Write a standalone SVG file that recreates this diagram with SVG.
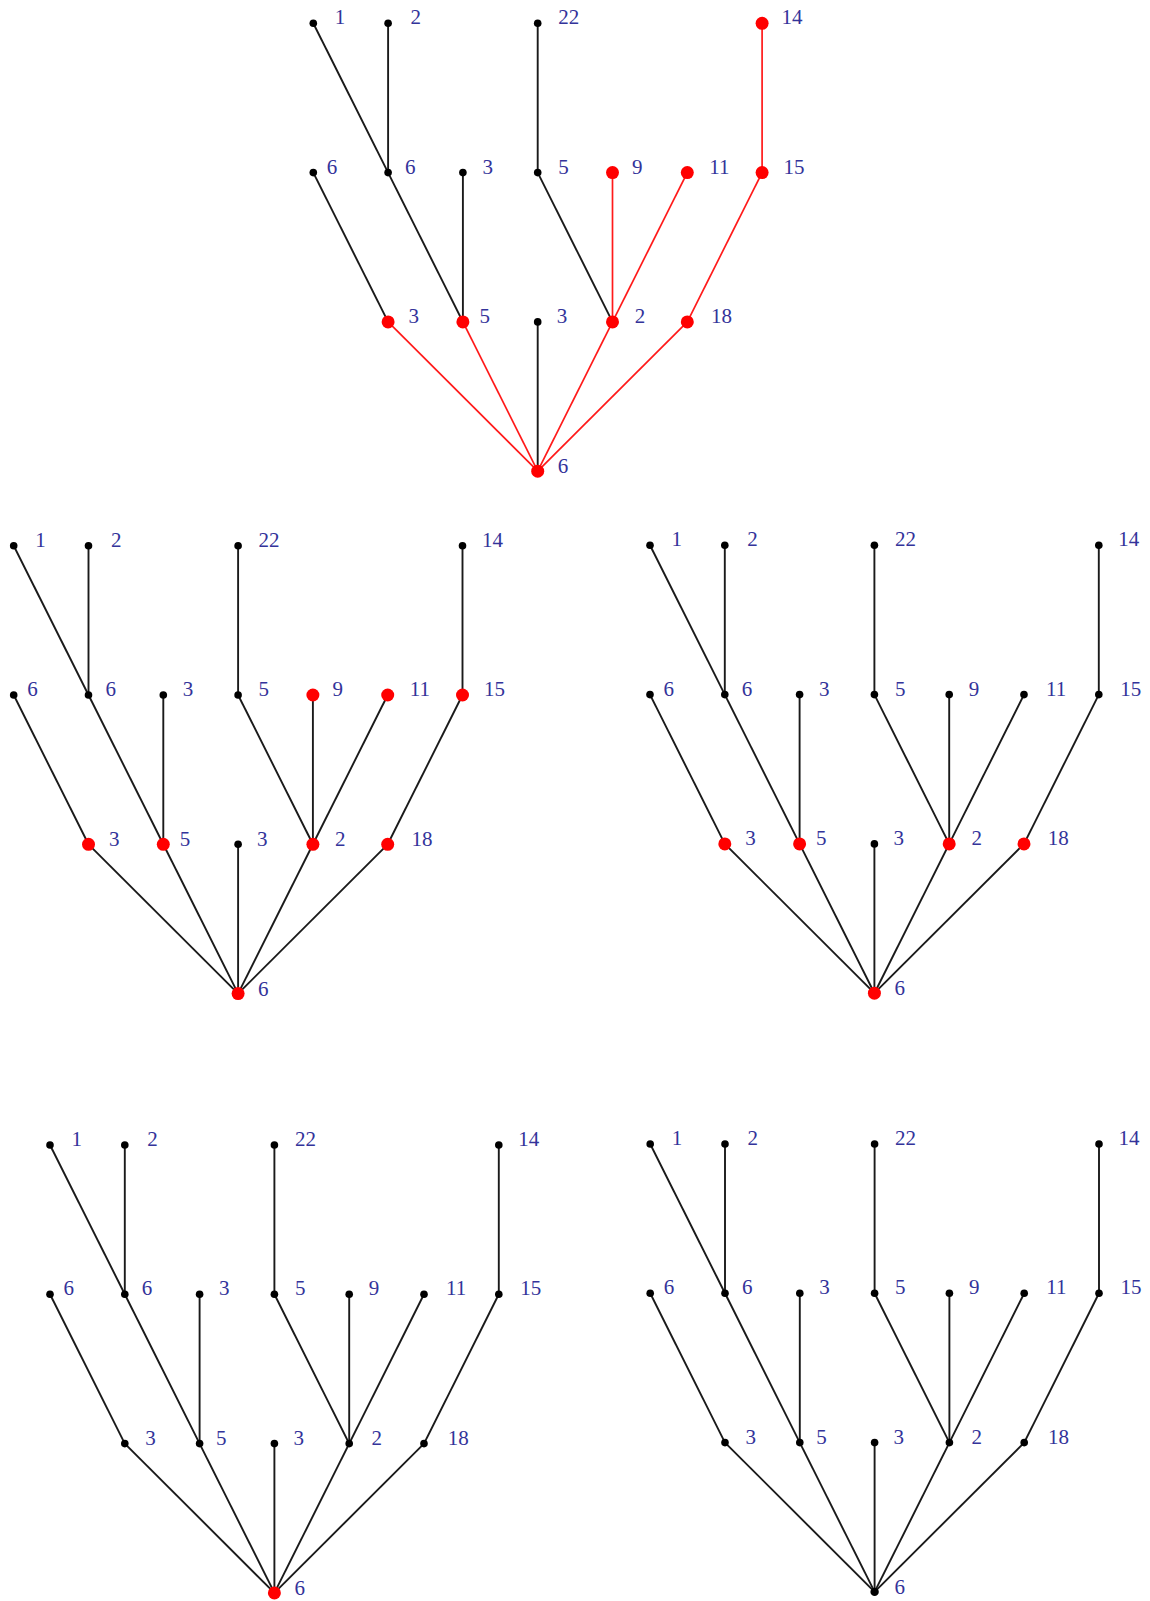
<svg xmlns="http://www.w3.org/2000/svg" width="1150" height="1601" viewBox="0 0 1150 1601">
<style>
.e{stroke:#1a1a1a;stroke-width:1.9;fill:none}
.er{stroke:#ff1a1a;stroke-width:1.7;fill:none}
.d{fill:#000}
.dr{fill:#ff0000}
.lb{font-family:"Liberation Serif","DejaVu Serif",serif;font-size:21px;fill:#33339a}
</style>
<rect width="1150" height="1601" fill="#fff"/>
<g id="connectors">
<g id="conn-t1" transform="translate(313.3,23.3)">
<line class="e" x1="0" y1="0" x2="74.8" y2="149.3"/>
<line class="e" x1="74.8" y1="0" x2="74.8" y2="149.3"/>
<line class="e" x1="224.4" y1="0" x2="224.4" y2="149.3"/>
<line class="er" x1="448.8" y1="0" x2="448.8" y2="149.3"/>
<line class="e" x1="0" y1="149.3" x2="74.8" y2="298.6"/>
<line class="e" x1="74.8" y1="149.3" x2="149.6" y2="298.6"/>
<line class="e" x1="149.6" y1="149.3" x2="149.6" y2="298.6"/>
<line class="e" x1="224.4" y1="149.3" x2="299.2" y2="298.6"/>
<line class="er" x1="299.2" y1="149.3" x2="299.2" y2="298.6"/>
<line class="er" x1="374" y1="149.3" x2="299.2" y2="298.6"/>
<line class="er" x1="448.8" y1="149.3" x2="374" y2="298.6"/>
<line class="er" x1="74.8" y1="298.6" x2="224.4" y2="447.9"/>
<line class="er" x1="149.6" y1="298.6" x2="224.4" y2="447.9"/>
<line class="e" x1="224.4" y1="298.6" x2="224.4" y2="447.9"/>
<line class="er" x1="299.2" y1="298.6" x2="224.4" y2="447.9"/>
<line class="er" x1="374" y1="298.6" x2="224.4" y2="447.9"/>
</g>
<g id="conn-t2" transform="translate(13.7,545.7)">
<line class="e" x1="0" y1="0" x2="74.8" y2="149.3"/>
<line class="e" x1="74.8" y1="0" x2="74.8" y2="149.3"/>
<line class="e" x1="224.4" y1="0" x2="224.4" y2="149.3"/>
<line class="e" x1="448.8" y1="0" x2="448.8" y2="149.3"/>
<line class="e" x1="0" y1="149.3" x2="74.8" y2="298.6"/>
<line class="e" x1="74.8" y1="149.3" x2="149.6" y2="298.6"/>
<line class="e" x1="149.6" y1="149.3" x2="149.6" y2="298.6"/>
<line class="e" x1="224.4" y1="149.3" x2="299.2" y2="298.6"/>
<line class="e" x1="299.2" y1="149.3" x2="299.2" y2="298.6"/>
<line class="e" x1="374" y1="149.3" x2="299.2" y2="298.6"/>
<line class="e" x1="448.8" y1="149.3" x2="374" y2="298.6"/>
<line class="e" x1="74.8" y1="298.6" x2="224.4" y2="447.9"/>
<line class="e" x1="149.6" y1="298.6" x2="224.4" y2="447.9"/>
<line class="e" x1="224.4" y1="298.6" x2="224.4" y2="447.9"/>
<line class="e" x1="299.2" y1="298.6" x2="224.4" y2="447.9"/>
<line class="e" x1="374" y1="298.6" x2="224.4" y2="447.9"/>
</g>
<g id="conn-t3" transform="translate(650,545.3)">
<line class="e" x1="0" y1="0" x2="74.8" y2="149.3"/>
<line class="e" x1="74.8" y1="0" x2="74.8" y2="149.3"/>
<line class="e" x1="224.4" y1="0" x2="224.4" y2="149.3"/>
<line class="e" x1="448.8" y1="0" x2="448.8" y2="149.3"/>
<line class="e" x1="0" y1="149.3" x2="74.8" y2="298.6"/>
<line class="e" x1="74.8" y1="149.3" x2="149.6" y2="298.6"/>
<line class="e" x1="149.6" y1="149.3" x2="149.6" y2="298.6"/>
<line class="e" x1="224.4" y1="149.3" x2="299.2" y2="298.6"/>
<line class="e" x1="299.2" y1="149.3" x2="299.2" y2="298.6"/>
<line class="e" x1="374" y1="149.3" x2="299.2" y2="298.6"/>
<line class="e" x1="448.8" y1="149.3" x2="374" y2="298.6"/>
<line class="e" x1="74.8" y1="298.6" x2="224.4" y2="447.9"/>
<line class="e" x1="149.6" y1="298.6" x2="224.4" y2="447.9"/>
<line class="e" x1="224.4" y1="298.6" x2="224.4" y2="447.9"/>
<line class="e" x1="299.2" y1="298.6" x2="224.4" y2="447.9"/>
<line class="e" x1="374" y1="298.6" x2="224.4" y2="447.9"/>
</g>
<g id="conn-t4" transform="translate(50,1145)">
<line class="e" x1="0" y1="0" x2="74.8" y2="149.3"/>
<line class="e" x1="74.8" y1="0" x2="74.8" y2="149.3"/>
<line class="e" x1="224.4" y1="0" x2="224.4" y2="149.3"/>
<line class="e" x1="448.8" y1="0" x2="448.8" y2="149.3"/>
<line class="e" x1="0" y1="149.3" x2="74.8" y2="298.6"/>
<line class="e" x1="74.8" y1="149.3" x2="149.6" y2="298.6"/>
<line class="e" x1="149.6" y1="149.3" x2="149.6" y2="298.6"/>
<line class="e" x1="224.4" y1="149.3" x2="299.2" y2="298.6"/>
<line class="e" x1="299.2" y1="149.3" x2="299.2" y2="298.6"/>
<line class="e" x1="374" y1="149.3" x2="299.2" y2="298.6"/>
<line class="e" x1="448.8" y1="149.3" x2="374" y2="298.6"/>
<line class="e" x1="74.8" y1="298.6" x2="224.4" y2="447.9"/>
<line class="e" x1="149.6" y1="298.6" x2="224.4" y2="447.9"/>
<line class="e" x1="224.4" y1="298.6" x2="224.4" y2="447.9"/>
<line class="e" x1="299.2" y1="298.6" x2="224.4" y2="447.9"/>
<line class="e" x1="374" y1="298.6" x2="224.4" y2="447.9"/>
</g>
<g id="conn-t5" transform="translate(650.2,1144)">
<line class="e" x1="0" y1="0" x2="74.8" y2="149.3"/>
<line class="e" x1="74.8" y1="0" x2="74.8" y2="149.3"/>
<line class="e" x1="224.4" y1="0" x2="224.4" y2="149.3"/>
<line class="e" x1="448.8" y1="0" x2="448.8" y2="149.3"/>
<line class="e" x1="0" y1="149.3" x2="74.8" y2="298.6"/>
<line class="e" x1="74.8" y1="149.3" x2="149.6" y2="298.6"/>
<line class="e" x1="149.6" y1="149.3" x2="149.6" y2="298.6"/>
<line class="e" x1="224.4" y1="149.3" x2="299.2" y2="298.6"/>
<line class="e" x1="299.2" y1="149.3" x2="299.2" y2="298.6"/>
<line class="e" x1="374" y1="149.3" x2="299.2" y2="298.6"/>
<line class="e" x1="448.8" y1="149.3" x2="374" y2="298.6"/>
<line class="e" x1="74.8" y1="298.6" x2="224.4" y2="447.9"/>
<line class="e" x1="149.6" y1="298.6" x2="224.4" y2="447.9"/>
<line class="e" x1="224.4" y1="298.6" x2="224.4" y2="447.9"/>
<line class="e" x1="299.2" y1="298.6" x2="224.4" y2="447.9"/>
<line class="e" x1="374" y1="298.6" x2="224.4" y2="447.9"/>
</g>
</g>
<g id="nodes">
<g id="tree1" transform="translate(313.3,23.3)">
<g id="t1-a1"><circle class="d" cx="0" cy="0" r="3.8"/><text class="lb" x="21.5" y="1">1</text></g>
<g id="t1-a2"><circle class="d" cx="74.8" cy="0" r="3.8"/><text class="lb" x="97.3" y="1">2</text></g>
<g id="t1-a22"><circle class="d" cx="224.4" cy="0" r="3.8"/><text class="lb" x="244.9" y="1">22</text></g>
<g id="t1-a14"><circle class="dr" cx="448.8" cy="0" r="6.5"/><text class="lb" x="468.3" y="1">14</text></g>
<g id="t1-b6a"><circle class="d" cx="0" cy="149.3" r="3.8"/><text class="lb" x="13.5" y="150.3">6</text></g>
<g id="t1-b6b"><circle class="d" cx="74.8" cy="149.3" r="3.8"/><text class="lb" x="91.8" y="150.3">6</text></g>
<g id="t1-b3"><circle class="d" cx="149.6" cy="149.3" r="3.8"/><text class="lb" x="169.1" y="150.3">3</text></g>
<g id="t1-b5"><circle class="d" cx="224.4" cy="149.3" r="3.8"/><text class="lb" x="244.9" y="150.3">5</text></g>
<g id="t1-b9"><circle class="dr" cx="299.2" cy="149.3" r="6.5"/><text class="lb" x="318.7" y="150.3">9</text></g>
<g id="t1-b11"><circle class="dr" cx="374" cy="149.3" r="6.5"/><text class="lb" x="396" y="150.3">11</text></g>
<g id="t1-b15"><circle class="dr" cx="448.8" cy="149.3" r="6.5"/><text class="lb" x="470.3" y="150.3">15</text></g>
<g id="t1-c3a"><circle class="dr" cx="74.8" cy="298.6" r="6.5"/><text class="lb" x="95.3" y="300.1">3</text></g>
<g id="t1-c5"><circle class="dr" cx="149.6" cy="298.6" r="6.5"/><text class="lb" x="166.1" y="300.1">5</text></g>
<g id="t1-c3b"><circle class="d" cx="224.4" cy="298.6" r="3.8"/><text class="lb" x="243.4" y="300.1">3</text></g>
<g id="t1-c2"><circle class="dr" cx="299.2" cy="298.6" r="6.5"/><text class="lb" x="321.4" y="300.1">2</text></g>
<g id="t1-c18"><circle class="dr" cx="374" cy="298.6" r="6.5"/><text class="lb" x="397.8" y="300.1">18</text></g>
<g id="t1-root"><circle class="dr" cx="224.4" cy="447.9" r="6.5"/><text class="lb" x="244.4" y="449.9">6</text></g>
</g>
<g id="tree2" transform="translate(13.7,545.7)">
<g id="t2-a1"><circle class="d" cx="0" cy="0" r="3.8"/><text class="lb" x="21.5" y="1">1</text></g>
<g id="t2-a2"><circle class="d" cx="74.8" cy="0" r="3.8"/><text class="lb" x="97.3" y="1">2</text></g>
<g id="t2-a22"><circle class="d" cx="224.4" cy="0" r="3.8"/><text class="lb" x="244.9" y="1">22</text></g>
<g id="t2-a14"><circle class="d" cx="448.8" cy="0" r="3.8"/><text class="lb" x="468.3" y="1">14</text></g>
<g id="t2-b6a"><circle class="d" cx="0" cy="149.3" r="3.8"/><text class="lb" x="13.5" y="150.3">6</text></g>
<g id="t2-b6b"><circle class="d" cx="74.8" cy="149.3" r="3.8"/><text class="lb" x="91.8" y="150.3">6</text></g>
<g id="t2-b3"><circle class="d" cx="149.6" cy="149.3" r="3.8"/><text class="lb" x="169.1" y="150.3">3</text></g>
<g id="t2-b5"><circle class="d" cx="224.4" cy="149.3" r="3.8"/><text class="lb" x="244.9" y="150.3">5</text></g>
<g id="t2-b9"><circle class="dr" cx="299.2" cy="149.3" r="6.5"/><text class="lb" x="318.7" y="150.3">9</text></g>
<g id="t2-b11"><circle class="dr" cx="374" cy="149.3" r="6.5"/><text class="lb" x="396" y="150.3">11</text></g>
<g id="t2-b15"><circle class="dr" cx="448.8" cy="149.3" r="6.5"/><text class="lb" x="470.3" y="150.3">15</text></g>
<g id="t2-c3a"><circle class="dr" cx="74.8" cy="298.6" r="6.5"/><text class="lb" x="95.3" y="300.1">3</text></g>
<g id="t2-c5"><circle class="dr" cx="149.6" cy="298.6" r="6.5"/><text class="lb" x="166.1" y="300.1">5</text></g>
<g id="t2-c3b"><circle class="d" cx="224.4" cy="298.6" r="3.8"/><text class="lb" x="243.4" y="300.1">3</text></g>
<g id="t2-c2"><circle class="dr" cx="299.2" cy="298.6" r="6.5"/><text class="lb" x="321.4" y="300.1">2</text></g>
<g id="t2-c18"><circle class="dr" cx="374" cy="298.6" r="6.5"/><text class="lb" x="397.8" y="300.1">18</text></g>
<g id="t2-root"><circle class="dr" cx="224.4" cy="447.9" r="6.5"/><text class="lb" x="244.4" y="449.9">6</text></g>
</g>
<g id="tree3" transform="translate(650,545.3)">
<g id="t3-a1"><circle class="d" cx="0" cy="0" r="3.8"/><text class="lb" x="21.5" y="1">1</text></g>
<g id="t3-a2"><circle class="d" cx="74.8" cy="0" r="3.8"/><text class="lb" x="97.3" y="1">2</text></g>
<g id="t3-a22"><circle class="d" cx="224.4" cy="0" r="3.8"/><text class="lb" x="244.9" y="1">22</text></g>
<g id="t3-a14"><circle class="d" cx="448.8" cy="0" r="3.8"/><text class="lb" x="468.3" y="1">14</text></g>
<g id="t3-b6a"><circle class="d" cx="0" cy="149.3" r="3.8"/><text class="lb" x="13.5" y="150.3">6</text></g>
<g id="t3-b6b"><circle class="d" cx="74.8" cy="149.3" r="3.8"/><text class="lb" x="91.8" y="150.3">6</text></g>
<g id="t3-b3"><circle class="d" cx="149.6" cy="149.3" r="3.8"/><text class="lb" x="169.1" y="150.3">3</text></g>
<g id="t3-b5"><circle class="d" cx="224.4" cy="149.3" r="3.8"/><text class="lb" x="244.9" y="150.3">5</text></g>
<g id="t3-b9"><circle class="d" cx="299.2" cy="149.3" r="3.8"/><text class="lb" x="318.7" y="150.3">9</text></g>
<g id="t3-b11"><circle class="d" cx="374" cy="149.3" r="3.8"/><text class="lb" x="396" y="150.3">11</text></g>
<g id="t3-b15"><circle class="d" cx="448.8" cy="149.3" r="3.8"/><text class="lb" x="470.3" y="150.3">15</text></g>
<g id="t3-c3a"><circle class="dr" cx="74.8" cy="298.6" r="6.5"/><text class="lb" x="95.3" y="300.1">3</text></g>
<g id="t3-c5"><circle class="dr" cx="149.6" cy="298.6" r="6.5"/><text class="lb" x="166.1" y="300.1">5</text></g>
<g id="t3-c3b"><circle class="d" cx="224.4" cy="298.6" r="3.8"/><text class="lb" x="243.4" y="300.1">3</text></g>
<g id="t3-c2"><circle class="dr" cx="299.2" cy="298.6" r="6.5"/><text class="lb" x="321.4" y="300.1">2</text></g>
<g id="t3-c18"><circle class="dr" cx="374" cy="298.6" r="6.5"/><text class="lb" x="397.8" y="300.1">18</text></g>
<g id="t3-root"><circle class="dr" cx="224.4" cy="447.9" r="6.5"/><text class="lb" x="244.4" y="449.9">6</text></g>
</g>
<g id="tree4" transform="translate(50,1145)">
<g id="t4-a1"><circle class="d" cx="0" cy="0" r="3.8"/><text class="lb" x="21.5" y="1">1</text></g>
<g id="t4-a2"><circle class="d" cx="74.8" cy="0" r="3.8"/><text class="lb" x="97.3" y="1">2</text></g>
<g id="t4-a22"><circle class="d" cx="224.4" cy="0" r="3.8"/><text class="lb" x="244.9" y="1">22</text></g>
<g id="t4-a14"><circle class="d" cx="448.8" cy="0" r="3.8"/><text class="lb" x="468.3" y="1">14</text></g>
<g id="t4-b6a"><circle class="d" cx="0" cy="149.3" r="3.8"/><text class="lb" x="13.5" y="150.3">6</text></g>
<g id="t4-b6b"><circle class="d" cx="74.8" cy="149.3" r="3.8"/><text class="lb" x="91.8" y="150.3">6</text></g>
<g id="t4-b3"><circle class="d" cx="149.6" cy="149.3" r="3.8"/><text class="lb" x="169.1" y="150.3">3</text></g>
<g id="t4-b5"><circle class="d" cx="224.4" cy="149.3" r="3.8"/><text class="lb" x="244.9" y="150.3">5</text></g>
<g id="t4-b9"><circle class="d" cx="299.2" cy="149.3" r="3.8"/><text class="lb" x="318.7" y="150.3">9</text></g>
<g id="t4-b11"><circle class="d" cx="374" cy="149.3" r="3.8"/><text class="lb" x="396" y="150.3">11</text></g>
<g id="t4-b15"><circle class="d" cx="448.8" cy="149.3" r="3.8"/><text class="lb" x="470.3" y="150.3">15</text></g>
<g id="t4-c3a"><circle class="d" cx="74.8" cy="298.6" r="3.8"/><text class="lb" x="95.3" y="300.1">3</text></g>
<g id="t4-c5"><circle class="d" cx="149.6" cy="298.6" r="3.8"/><text class="lb" x="166.1" y="300.1">5</text></g>
<g id="t4-c3b"><circle class="d" cx="224.4" cy="298.6" r="3.8"/><text class="lb" x="243.4" y="300.1">3</text></g>
<g id="t4-c2"><circle class="d" cx="299.2" cy="298.6" r="3.8"/><text class="lb" x="321.4" y="300.1">2</text></g>
<g id="t4-c18"><circle class="d" cx="374" cy="298.6" r="3.8"/><text class="lb" x="397.8" y="300.1">18</text></g>
<g id="t4-root"><circle class="dr" cx="224.4" cy="447.9" r="6.5"/><text class="lb" x="244.4" y="449.9">6</text></g>
</g>
<g id="tree5" transform="translate(650.2,1144)">
<g id="t5-a1"><circle class="d" cx="0" cy="0" r="3.8"/><text class="lb" x="21.5" y="1">1</text></g>
<g id="t5-a2"><circle class="d" cx="74.8" cy="0" r="3.8"/><text class="lb" x="97.3" y="1">2</text></g>
<g id="t5-a22"><circle class="d" cx="224.4" cy="0" r="3.8"/><text class="lb" x="244.9" y="1">22</text></g>
<g id="t5-a14"><circle class="d" cx="448.8" cy="0" r="3.8"/><text class="lb" x="468.3" y="1">14</text></g>
<g id="t5-b6a"><circle class="d" cx="0" cy="149.3" r="3.8"/><text class="lb" x="13.5" y="150.3">6</text></g>
<g id="t5-b6b"><circle class="d" cx="74.8" cy="149.3" r="3.8"/><text class="lb" x="91.8" y="150.3">6</text></g>
<g id="t5-b3"><circle class="d" cx="149.6" cy="149.3" r="3.8"/><text class="lb" x="169.1" y="150.3">3</text></g>
<g id="t5-b5"><circle class="d" cx="224.4" cy="149.3" r="3.8"/><text class="lb" x="244.9" y="150.3">5</text></g>
<g id="t5-b9"><circle class="d" cx="299.2" cy="149.3" r="3.8"/><text class="lb" x="318.7" y="150.3">9</text></g>
<g id="t5-b11"><circle class="d" cx="374" cy="149.3" r="3.8"/><text class="lb" x="396" y="150.3">11</text></g>
<g id="t5-b15"><circle class="d" cx="448.8" cy="149.3" r="3.8"/><text class="lb" x="470.3" y="150.3">15</text></g>
<g id="t5-c3a"><circle class="d" cx="74.8" cy="298.6" r="3.8"/><text class="lb" x="95.3" y="300.1">3</text></g>
<g id="t5-c5"><circle class="d" cx="149.6" cy="298.6" r="3.8"/><text class="lb" x="166.1" y="300.1">5</text></g>
<g id="t5-c3b"><circle class="d" cx="224.4" cy="298.6" r="3.8"/><text class="lb" x="243.4" y="300.1">3</text></g>
<g id="t5-c2"><circle class="d" cx="299.2" cy="298.6" r="3.8"/><text class="lb" x="321.4" y="300.1">2</text></g>
<g id="t5-c18"><circle class="d" cx="374" cy="298.6" r="3.8"/><text class="lb" x="397.8" y="300.1">18</text></g>
<g id="t5-root"><circle class="d" cx="224.4" cy="447.9" r="4.2"/><text class="lb" x="244.4" y="449.9">6</text></g>
</g>
</g>
</svg>
